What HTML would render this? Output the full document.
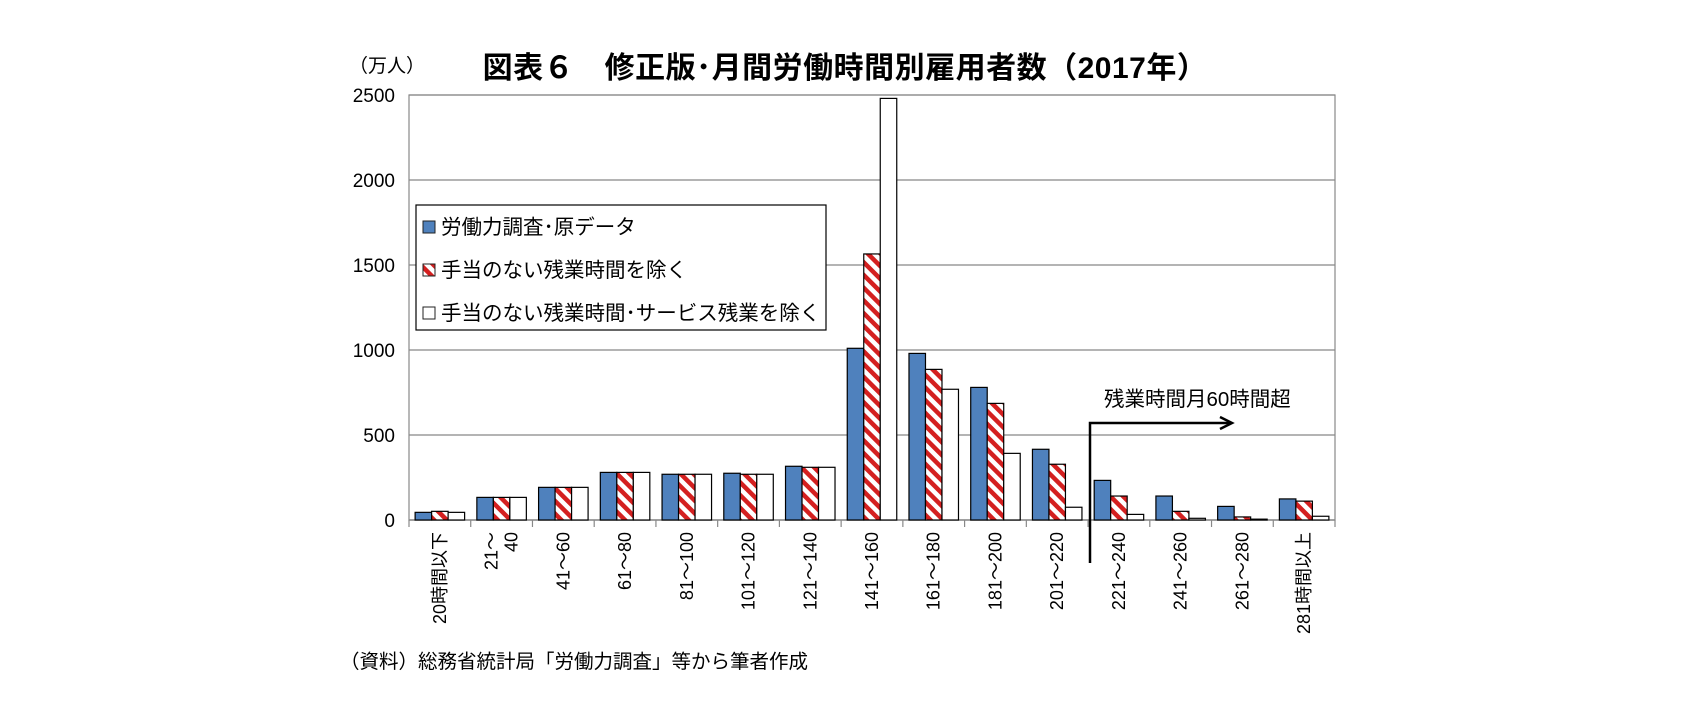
<!DOCTYPE html>
<html><head><meta charset="utf-8"><style>
body{margin:0;background:#fff;}
svg text{font-family:"Liberation Sans","Noto Sans CJK JP",sans-serif;}
</style></head><body>
<svg id="c" width="1691" height="703" xmlns="http://www.w3.org/2000/svg">
<defs>
<pattern id="hatch" patternUnits="userSpaceOnUse" width="9" height="9" patternTransform="rotate(-45)">
<rect width="9" height="9" fill="#fff"/><rect width="4.5" height="9" fill="#d42020"/>
</pattern>
</defs>
<text x="387" y="72" font-size="19" text-anchor="middle">（万人）</text>
<text x="845" y="78" font-size="30" font-weight="bold" text-anchor="middle" letter-spacing="0.5">図表６　修正版･月間労働時間別雇用者数（2017年）</text>
<g id="grid"></g>
<g id="bars"></g>
<g id="xl"></g>
<g>
<rect x="416" y="205" width="410" height="125" fill="#fff" stroke="#000" stroke-width="1.2"/>
<rect x="423" y="221" width="12" height="12" fill="#4f81bd" stroke="#222"/>
<text x="441" y="234" font-size="20.5">労働力調査･原データ</text>
<rect x="423" y="264" width="12" height="12" fill="url(#hatch)" stroke="#222"/>
<text x="441" y="277" font-size="20.5">手当のない残業時間を除く</text>
<rect x="423" y="307" width="12" height="12" fill="#fff" stroke="#222"/>
<text x="441" y="320" font-size="20.5">手当のない残業時間･サービス残業を除く</text>
</g>
<g>
<text x="1104" y="406" font-size="20.5">残業時間月60時間超</text>
<path d="M1090 563 V423 H1230" fill="none" stroke="#000" stroke-width="2.5"/>
<path d="M1220 417 L1232 423 L1220 429" fill="none" stroke="#000" stroke-width="2.5"/>
</g>
<text x="340" y="668" font-size="19.5">（資料）総務省統計局「労働力調査」等から筆者作成</text>
</svg>
<script>
const categories=["20時間以下","21～\n40","41～60","61～80","81～100","101～120","121～140","141～160","161～180","181～200","201～220","221～240","241～260","261～280","281時間以上"];
const rawData=[45,133,192,280,269,275,316,1010,980,780,416,233,141,80,124];
const noAllowance=[51,133,192,280,269,269,310,1565,886,686,328,141,51,18,111];
const noService=[45,133,192,280,269,269,310,2480,769,392,75,33,10,5,22];
const yTicks=[0,500,1000,1500,2000,2500];
const NS="http://www.w3.org/2000/svg";
const L=409,R=1335,T=95,B=520,YMAX=2500;
const y=v=>B-(v/YMAX)*(B-T);
const step=(R-L)/categories.length;
const x=i=>L+i*step;
function mk(tag,attrs,parent){const e=document.createElementNS(NS,tag);for(const k in attrs)e.setAttribute(k,attrs[k]);parent.appendChild(e);return e;}
const grid=document.getElementById('grid');
yTicks.forEach(t=>{
 if(t>0){const g=mk('line',{x1:L,x2:R,y1:y(t),y2:y(t),stroke:'#888','stroke-width':1.2},grid);
 
 }
 const tx=mk('text',{x:L-14,y:y(t)+7,'font-size':19,'text-anchor':'end'},grid);
 tx.textContent=t;
 
 
});
mk('rect',{x:L,y:T,width:R-L,height:B-T,fill:'none',stroke:'#888','stroke-width':1.2},grid);
mk('line',{x1:L,x2:R,y1:B,y2:B,stroke:'#888','stroke-width':1.5},grid);
const bars=document.getElementById('bars');
const bw=16.5;
const series=[[rawData,'#4f81bd','raw'],[noAllowance,'url(#hatch)','no-allowance'],[noService,'#fff','no-service']];
categories.forEach((c,i)=>{
 const x0=x(i)+(step-3*bw)/2;
 series.forEach((s,j)=>{
  const v=s[0][i];
  const r=mk('rect',{x:x0+j*bw,y:y(v),width:bw,height:B-y(v),fill:s[1],stroke:'#000','stroke-width':1.2},bars);
  
  
 });
 mk('line',{x1:x(i),x2:x(i),y1:B,y2:B+7,stroke:'#888','stroke-width':1.2},bars);
 const xl=document.getElementById('xl');
 const cx=x(i)+step/2;
 const lines=c.split('\n');
 lines.forEach((ln,k)=>{
  const off=(k-(lines.length-1)/2)*20;
  const t=mk('text',{x:0,y:0,'font-size':18,'text-anchor':'end',transform:`translate(${cx+6+off},${B+12}) rotate(-90)`},xl);
  t.textContent=ln;
  
  
 });
});
mk('line',{x1:R,x2:R,y1:B,y2:B+7,stroke:'#888','stroke-width':1.2},bars);
</script>
</body></html>
